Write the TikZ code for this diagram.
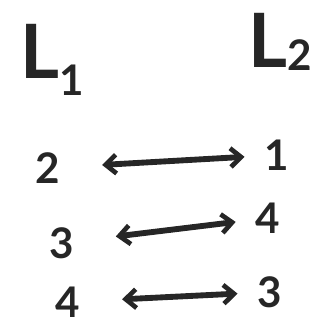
\documentclass[tikz,border=0pt]{standalone}
\usepackage{fontspec}
\setmainfont{Lato}
\usetikzlibrary{arrows.meta}

\begin{document}
\begin{tikzpicture}[
    x=0.03cm, y=-0.03cm,
    >={Straight Barb[length=9pt,width=16pt,line width=4pt]},
    font=\bfseries\fontsize{36}{36}\selectfont,
    lbl/.style={inner sep=0pt, text=black!85},
    big/.style={lbl, font=\bfseries\fontsize{64}{64}\selectfont},
    link/.style={<->, line width=5pt, black!85, shorten <=1.25cm, shorten >=0.6cm}
]
\useasboundingbox (0,0) rectangle (322,329);

\node[big] (l1) at (52,60) {L\raisebox{-0.22em}{\fontsize{36}{36}\selectfont 1}};
\node[big] (l2) at (280,42) {L\raisebox{-0.05em}{\fontsize{36}{36}\selectfont 2}};

\node[lbl] (a2) at (48,168) {2};
\node[lbl] (a3) at (62,243) {3};
\node[lbl] (a4) at (68,302) {4};

\node[lbl] (b1) at (277,155) {1};
\node[lbl] (b4) at (268,218) {4};
\node[lbl] (b3) at (270,292) {3};

\draw[link] (a2) -- (b1);
\draw[link] (a3) -- (b4);
\draw[link] (a4) -- (b3);
\end{tikzpicture}
\end{document}
